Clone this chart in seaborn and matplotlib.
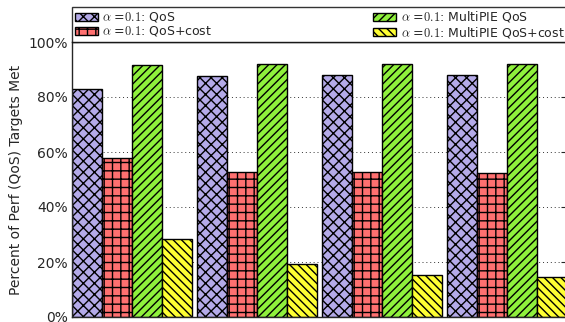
#!/usr/bin/env python3
"""
Share of performance (QoS) targets met, per configuration.
"""

import pandas as pd
import matplotlib
matplotlib.use("Agg")
import matplotlib.pyplot as plt
import seaborn as sns

# Data (percent)
groups = ["g1", "g2", "g3", "g4"]
series = [r"$\alpha$ =$\mathrm{0.1}$: QoS", r"$\alpha$ =$\mathrm{0.1}$: QoS+cost",
          r"$\alpha$ =$\mathrm{0.1}$: MultiPIE QoS", r"$\alpha$ =$\mathrm{0.1}$: MultiPIE QoS+cost"]
qos = [83.0, 87.5, 87.9, 87.9]
qos_cost = [57.9, 52.6, 52.6, 52.4]
multipie_qos = [91.5, 91.9, 91.9, 91.9]
multipie_qos_cost = [28.2, 19.3, 15.3, 14.7]

colors = ["#b4aae8", "#ff7070", "#8ff03c", "#ffff33"]
hatches = ["xxx", "++", "////", "\\\\\\\\"]

sns.set_style("ticks")
plt.rcParams["font.family"] = ["DejaVu Sans"]
plt.rcParams["mathtext.fontset"] = "cm"
plt.rcParams["hatch.linewidth"] = 1.0
plt.rcParams["hatch.color"] = "black"


def build_frame():
    rows = []
    for name, vals in zip(series, [qos, qos_cost, multipie_qos, multipie_qos_cost]):
        for g, v in zip(groups, vals):
            rows.append({"group": g, "series": name, "value": v})
    return pd.DataFrame(rows)


def main():
    df = build_frame()

    fig = plt.figure(figsize=(5.65, 3.22), dpi=100)
    ax = fig.add_axes([72 / 565, 5 / 322, 495 / 565, 275 / 322])

    sns.barplot(data=df, x="group", y="value", hue="series", hue_order=series,
                palette=colors, width=0.96, gap=0, saturation=1,
                edgecolor="black", linewidth=1.0, ax=ax, zorder=2)

    # hatches per series (seaborn draws patches series by series)
    n = len(groups)
    for i, bar in enumerate(ax.patches[:n * len(series)]):
        bar.set_hatch(hatches[i // n])
        bar.set_edgecolor("black")

    ax.set_xlim(-0.48, 3.48)
    ax.set_ylim(0, 100)
    ax.set_yticks([0, 20, 40, 60, 80, 100])
    ax.set_yticklabels([f"{t}%" for t in [0, 20, 40, 60, 80, 100]], fontsize=10)
    ax.set_xticks([])
    ax.set_xlabel("")
    ax.set_ylabel("Percent of Perf (QoS) Targets Met", fontsize=10)
    ax.tick_params(axis="y", direction="in", right=True, length=4, pad=3)
    ax.yaxis.grid(True, linestyle=(0, (1, 3)), color="#333333", linewidth=0.7, zorder=0)
    ax.set_axisbelow(True)
    for s in ax.spines.values():
        s.set_linewidth(1.0)

    handles, labels = ax.get_legend_handles_labels()
    for h, hat in zip(handles, hatches):
        h.set_hatch(hat)
    ax.legend(handles, labels, ncol=2, loc="lower left",
              bbox_to_anchor=(0, 1, 1.0, 34 / 275), mode="expand", borderaxespad=0,
              fontsize=9, frameon=True, fancybox=False, edgecolor="black",
              handlelength=1.85, handleheight=0.6, handletextpad=0.35,
              labelspacing=0.0, borderpad=0.2, columnspacing=1.0)
    ax.get_legend().get_frame().set_linewidth(1.0)

    fig.savefig("out.png", dpi=100)
    plt.close(fig)


if __name__ == "__main__":
    main()
